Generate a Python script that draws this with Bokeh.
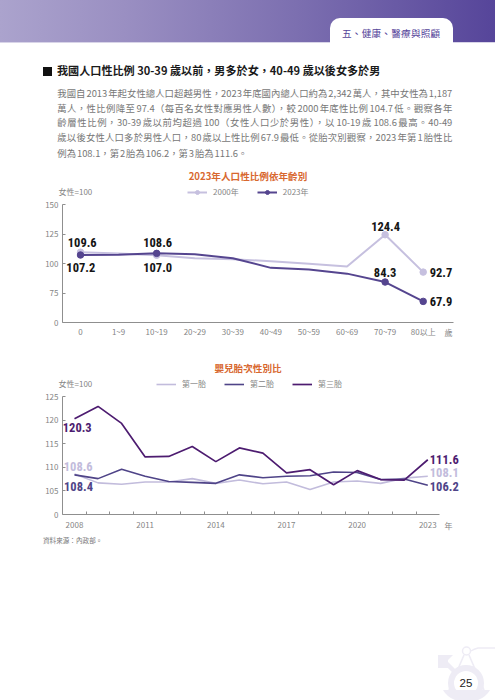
from bokeh.embed import file_html
from bokeh.resources import INLINE
from bokeh.layouts import column
from bokeh.models import (Div, Range1d, FixedTicker, Label, Legend, LegendItem, ColumnDataSource)
from bokeh.plotting import figure

# ---------- data ----------
age_groups = ["0", "1~9", "10~19", "20~29", "30~39", "40~49", "50~59", "60~69", "70~79", "80以上"]
ratio_2000 = [109.6, 108.5, 107.0, 104.5, 103.6, 102.0, 99.8, 97.5, 124.4, 92.7]
ratio_2023 = [107.2, 107.4, 108.6, 107.8, 104.5, 96.3, 95.0, 91.4, 84.3, 67.9]
marked_groups = [0, 2, 8, 9]
age_y_ticks = [50, 75, 100, 125, 150]
age_y_labels = ["0", "75", "100", "125", "150"]

years = list(range(2008, 2024))
first_birth = [108.6, 106.7, 106.4, 106.9, 106.9, 107.6, 106.6, 107.3, 106.5, 106.9, 105.3, 106.9, 107.1, 106.6, 107.7, 108.1]
second_birth = [108.4, 107.6, 109.6, 108.1, 107.0, 106.8, 106.6, 108.4, 107.8, 108.1, 108.2, 109.0, 108.9, 107.4, 107.5, 106.2]
third_birth = [120.3, 122.9, 119.3, 112.2, 112.3, 114.4, 111.2, 114.1, 113.0, 108.8, 109.5, 106.3, 109.3, 107.4, 107.3, 111.6]
year_ticks = [2008, 2011, 2014, 2017, 2020, 2023]
birth_y_ticks = [100, 105, 110, 115, 120, 125]
birth_y_labels = ["0", "105", "110", "115", "120", "125"]

heading = "我國人口性比例 30-39 歲以前，男多於女，40-49 歲以後女多於男"
body_lines = [
    "我國自 2013 年起女性總人口超越男性，2023 年底國內總人口約為 2,342 萬人，其中女性為 1,187",
    "萬人，性比例降至 97.4（每百名女性對應男性人數），較 2000 年底性比例 104.7 低。觀察各年",
    "齡層性比例，30-39 歲以前均超過 100（女性人口少於男性），以 10-19 歲 108.6 最高。40-49",
    "歲以後女性人口多於男性人口，80 歲以上性比例 67.9 最低。從胎次別觀察，2023 年第 1 胎性比",
    "例為 108.1，第 2 胎為 106.2，第 3 胎為 111.6。",
]

# ---------- styles ----------
CJK = "Noto Sans CJK TC"
NARROW = "'Roboto Condensed','Open Sans Condensed','DejaVu Sans Condensed','Liberation Sans'"
GREY = "#858585"
AXIS = "#8f8f8f"
ORANGE = "#d8682f"
C2000, C2023 = "#c6c0df", "#55458f"
C1, C2, C3 = "#c2bcdc", "#4f4488", "#4d1c70"
W = 495


def place(x, y, text, css):
    return (f'<div style="position:absolute;left:{x}px;top:{y}px;transform:translateY(-50%);'
            f'white-space:nowrap;font-family:\'{CJK}\';{css}">{text}</div>')


top_html = (
    '<div style="position:absolute;left:0;top:0;width:495px;height:43px;'
    'background:linear-gradient(90deg,#aba3cd,#9a8fc2 25%,#7c6fb0 60%,#56459a);border-bottom:1px solid #d8d4e8;box-sizing:border-box"></div>'
    '<div style="position:absolute;left:330px;top:18px;width:123px;height:25px;background:#fff;border-radius:10px 10px 0 0"></div>'
    + place(342, 33.5, "五、健康、醫療與照顧", "font-size:9.6px;color:#55459a;letter-spacing:.25px")
    + '<div style="position:absolute;left:43px;top:67px;width:9px;height:9px;background:#111"></div>'
    + place(57, 71, heading, "font-size:11.1px;font-weight:700;color:#1a1a1a")
)
for i, (line, yc) in enumerate(zip(body_lines, [92.7, 107.7, 122.3, 137, 152.7])):
    just = "width:395px;white-space:normal;text-align:justify;text-align-last:justify;" if i < 4 else ""
    top_html += place(57.3, yc, line, f"font-size:9.4px;line-height:14px;word-spacing:-1.2px;color:#777;{just}")

top = Div(text=top_html, width=W, height=165, margin=(0, 0, 0, 0), styles={"overflow": "visible"})


def full_range(px_a, val_a, px_b, val_b, px_start, px_end):
    """range whose ends fall at px_start/px_end when val_a sits at px_a and val_b at px_b"""
    k = (val_b - val_a) / (px_b - px_a)
    return Range1d(val_a + (px_start - px_a) * k, val_a + (px_end - px_a) * k)


def axes_figure(top_px, height, x_cal, y_cal, left, right, upper, lower):
    """the figure that carries the axes; its frame is the plot area"""
    p = figure(width=W, height=height, output_backend="svg", toolbar_location=None,
               x_range=full_range(*x_cal, left, right), y_range=full_range(*y_cal, lower, upper),
               min_border_left=left, min_border_right=W - right,
               min_border_top=upper - top_px, min_border_bottom=top_px + height - lower,
               margin=(0, 0, 0, 0))
    p.outline_line_color = None
    p.grid.visible = False
    p.background_fill_alpha = 0
    p.border_fill_alpha = 0
    for ax in (p.xaxis[0], p.yaxis[0]):
        ax.axis_line_color = AXIS
        ax.axis_line_width = 1
        ax.major_tick_line_color = AXIS
        ax.minor_tick_line_color = AXIS
        ax.major_tick_out = 0
        ax.minor_tick_out = 0
        ax.minor_tick_in = 0
        ax.major_label_text_font = CJK
        ax.major_label_text_font_size = "8px"
        ax.major_label_text_color = GREY
    p.yaxis[0].major_tick_in = 3
    p.yaxis[0].major_label_standoff = 4
    return p


def mark_figure(top_px, height, x_cal, y_cal):
    """transparent figure on top, same scales, whose frame is its whole area,
    so that labels and the legend can lie outside the plot area"""
    p = figure(width=W, height=height, output_backend="svg", toolbar_location=None,
               x_range=full_range(*x_cal, 0, W), y_range=full_range(*y_cal, top_px + height, top_px),
               min_border=0, margin=(0, 0, 0, 0), x_axis_location=None, y_axis_location=None,
               styles={"position": "absolute", "left": "0px", "top": f"{top_px}px"})
    p.outline_line_color = None
    p.grid.visible = False
    p.background_fill_alpha = 0
    p.border_fill_alpha = 0
    return p


def note(p, x, y, text, **kw):
    p.add_layout(Label(x=x, y=y, x_units="screen", y_units="screen", text=text,
                       text_font=CJK, text_font_size="8px", text_color=GREY,
                       text_baseline="middle", **kw))


def value_label(p, x, y, color="#151515", dx=0, dy=0, align="center", size="12.5px", weight="bold"):
    p.add_layout(Label(x=x, y=y, x_offset=dx, y_offset=dy, text=f"{y:.1f}", text_font=NARROW,
                       text_font_size=size, text_font_style=weight, text_color=color,
                       text_align=align, text_baseline="middle"))


def chart_title(p, y, text):
    p.add_layout(Label(x=247.5, y=y, x_units="screen", y_units="screen", text=text, text_font=CJK,
                       text_font_size="9.6px", text_font_style="bold", text_color=ORANGE,
                       text_align="center", text_baseline="middle"))


def style_legend(p, items, x, y, spacing):
    leg = Legend(items=items, orientation="horizontal", location=(x, y), border_line_color=None,
                 background_fill_alpha=0, padding=0, margin=0, spacing=spacing, glyph_width=20,
                 glyph_height=10, label_standoff=6, label_text_font=CJK, label_text_font_size="8px",
                 label_text_color=GREY, label_height=10)
    p.add_layout(leg)


# ---------- chart 1 ----------
idx = list(range(len(age_groups)))
T1, H1 = 165, 190
cal1 = ((80, 0, 422.7, 9), (322, 50, 204, 150))
a1 = axes_figure(T1, H1, *cal1, 62, 453, 204, 322)
a1.xaxis[0].ticker = FixedTicker(ticks=idx)
a1.xaxis[0].major_label_overrides = dict(zip(idx, age_groups))
a1.xaxis[0].major_tick_in = 0
a1.xaxis[0].major_label_standoff = 3
a1.yaxis[0].ticker = FixedTicker(ticks=age_y_ticks)
a1.yaxis[0].major_label_overrides = dict(zip(age_y_ticks, age_y_labels))

p1 = mark_figure(T1, H1, *cal1)
l00 = p1.line(idx, ratio_2000, line_color=C2000, line_width=2)
m00 = p1.scatter([idx[i] for i in marked_groups], [ratio_2000[i] for i in marked_groups], size=6.5, color=C2000)
l23 = p1.line(idx, ratio_2023, line_color=C2023, line_width=2)
m23 = p1.scatter([idx[i] for i in marked_groups], [ratio_2023[i] for i in marked_groups], size=6.5, color=C2023)
style_legend(p1, [LegendItem(label="2000年", renderers=[l00, m00]),
                  LegendItem(label="2023年", renderers=[l23, m23])], 187, H1 - (197 - T1), 18)
chart_title(p1, H1 - (175 - T1), "2023年人口性比例依年齡別")
note(p1, 58, H1 - (191 - T1), "女性=100", text_align="left")
note(p1, 448, H1 - (332 - T1), "歲", text_align="center")

value_label(p1, idx[0], ratio_2000[0], dx=1.7, dy=10)
value_label(p1, idx[0], ratio_2023[0], dx=0.3, dy=-12)
value_label(p1, idx[2], ratio_2023[2], dx=1, dy=11)
value_label(p1, idx[2], ratio_2000[2], dx=1, dy=-12)
value_label(p1, idx[8], ratio_2000[8], dx=0.5, dy=8.5)
value_label(p1, idx[8], ratio_2023[8], dx=0, dy=10)
value_label(p1, idx[9], ratio_2000[9], dx=6.5, align="left")
value_label(p1, idx[9], ratio_2023[9], dx=6.5, align="left")

# ---------- chart 2 ----------
T2, H2 = 355, 180
cal2 = ((74, 2008, 427.3, 2023), (514, 100, 396, 125))
a2 = axes_figure(T2, H2, *cal2, 62, 439, 396, 514)
a2.xaxis[0].ticker = FixedTicker(ticks=year_ticks, minor_ticks=[y + 0.5 for y in years])
a2.xaxis[0].major_tick_in = 0
a2.xaxis[0].minor_tick_in = 3
a2.xaxis[0].major_label_standoff = 7
a2.yaxis[0].ticker = FixedTicker(ticks=birth_y_ticks)
a2.yaxis[0].major_label_overrides = dict(zip(birth_y_ticks, birth_y_labels))

p2 = mark_figure(T2, H2, *cal2)
src = ColumnDataSource(dict(year=years, first=first_birth, second=second_birth, third=third_birth))
r1 = p2.line("year", "first", source=src, line_color=C1, line_width=1.6)
r2 = p2.line("year", "second", source=src, line_color=C2, line_width=1.6)
r3 = p2.line("year", "third", source=src, line_color=C3, line_width=1.7)
style_legend(p2, [LegendItem(label="第一胎", renderers=[r1]),
                  LegendItem(label="第二胎", renderers=[r2]),
                  LegendItem(label="第三胎", renderers=[r3])], 156, H2 - (389 - T2), 18)
chart_title(p2, H2 - (367 - T2), "嬰兒胎次性別比")
note(p2, 58, H2 - (383 - T2), "女性=100", text_align="left")
note(p2, 448, H2 - (525 - T2), "年", text_align="center")

value_label(p2, years[0], third_birth[0], C3, dx=2.7, dy=-9.3)
value_label(p2, years[0], first_birth[0], C1, dx=3.7, dy=7.5)
value_label(p2, years[0], second_birth[0], C2, dx=4, dy=-11.5)
value_label(p2, years[-1], third_birth[-1], C3, dx=2, dy=0.7, align="left")
value_label(p2, years[-1], first_birth[-1], C1, dx=2, dy=3.6, align="left")
value_label(p2, years[-1], second_birth[-1], C2, dx=2, dy=-1.5, align="left")

# ---------- footer ----------
PALE = "#eeecf5"
emblem = (
    '<svg style="position:absolute;left:0;top:0" width="495" height="165" viewBox="0 535 495 165">'
    f'<g fill="none" stroke="{PALE}">'
    '<circle cx="466" cy="683" r="15" stroke-width="6"/>'
    '<circle cx="466.5" cy="651" r="4" stroke-width="1.5"/>'
    '<path d="M464 655 L449 690 M469 655 L484 690" stroke-width="1.6"/>'
    '<path d="M471 651 Q474 649 478 648 L495 648" stroke-width="1.5"/>'
    '<path d="M455 672 L445 662" stroke-width="4.5"/></g>'
    f'<path d="M438 655 H453 L448 660 V668 L438 668 Z" fill="{PALE}"/>'
    f'<path d="M443 690 H490 Q486 697 478 700 H455 Q447 697 443 690 Z" fill="{PALE}"/>'
    '</svg>'
)
foot_html = (
    emblem
    + '<div style="position:absolute;left:43px;top:1px;font-family:\'Noto Sans CJK TC\';font-size:6.6px;color:#777;white-space:nowrap">資料來源：內政部。</div>'
    + '<div style="position:absolute;left:466px;top:148px;transform:translate(-50%,-50%);font-family:\'Liberation Sans\';font-size:11.5px;color:#222">25</div>'
)
foot = Div(text=foot_html, width=W, height=165, margin=(0, 0, 0, 0), styles={"overflow": "visible"})

page = column(top, column(a1), column(a2), foot, p1, p2, spacing=0, margin=(0, 0, 0, 0))
open("out.html", "w").write(file_html(page, INLINE))
